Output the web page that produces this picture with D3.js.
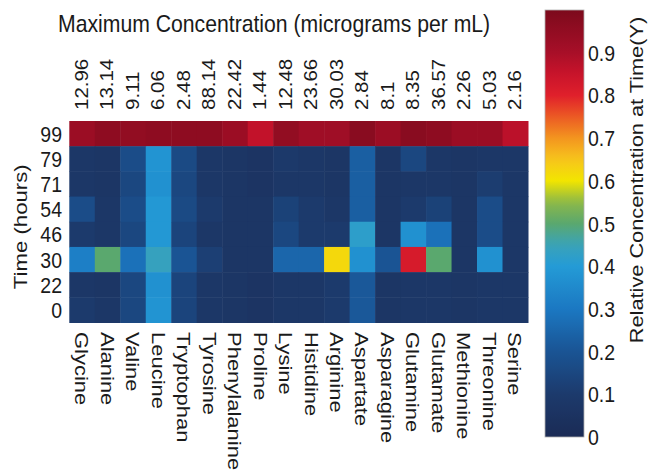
<!DOCTYPE html>
<html>
<head>
<meta charset="utf-8">
<script src="https://cdn.jsdelivr.net/npm/d3@7"></script>
<style>
  html, body { margin: 0; padding: 0; background: #fff; }
  svg { display: block; }
  text { font-family: "Liberation Sans", Arial, Helvetica, sans-serif; fill: #1a1a1a; }
</style>
</head>
<body>
<svg id="chart" width="653" height="472"></svg>
<script>
// ---- data ----
const categories = ["Glycine","Alanine","Valine","Leucine","Tryptophan","Tyrosine","Phenylalanine","Proline","Lysine","Histidine","Arginine","Aspartate","Asparagine","Glutamine","Glutamate","Methionine","Threonine","Serine"];
const maxConc = ["12.96","13.14","9.11","6.06","2.48","88.14","22.42","1.44","12.48","23.66","30.03","2.84","8.1","8.35","36.57","2.26","5.03","2.16"];
const times = ["99","79","71","54","46","30","22","0"];
const t99 = [0.93,0.96,0.95,0.96,0.96,0.96,0.93,0.86,0.95,0.92,0.92,0.97,0.93,0.97,0.96,0.93,0.93,0.87];
const t79 = [0.08,0.07,0.17,0.38,0.16,0.08,0.07,0.06,0.09,0.08,0.07,0.23,0.07,0.15,0.08,0.07,0.08,0.08];
const t71 = [0.08,0.07,0.15,0.37,0.15,0.08,0.07,0.06,0.08,0.08,0.07,0.23,0.07,0.08,0.08,0.07,0.11,0.08];
const t54 = [0.17,0.08,0.17,0.39,0.16,0.10,0.07,0.07,0.13,0.10,0.08,0.23,0.07,0.10,0.13,0.07,0.17,0.08];
const t46 = [0.10,0.08,0.15,0.39,0.14,0.08,0.07,0.07,0.15,0.10,0.10,0.42,0.07,0.37,0.28,0.07,0.17,0.08];
const t30 = [0.32,0.50,0.28,0.44,0.20,0.12,0.07,0.07,0.25,0.25,0.62,0.37,0.20,0.82,0.50,0.07,0.37,0.08];
const t22 = [0.08,0.07,0.15,0.37,0.14,0.08,0.07,0.06,0.08,0.08,0.10,0.21,0.07,0.08,0.08,0.07,0.08,0.08];
const t0  = [0.10,0.08,0.15,0.38,0.14,0.08,0.07,0.06,0.08,0.08,0.10,0.21,0.07,0.08,0.08,0.07,0.08,0.08];
const rowsData = [t99, t79, t71, t54, t46, t30, t22, t0];
const cbTicks = [0,0.1,0.2,0.3,0.4,0.5,0.6,0.7,0.8,0.9];

// printed "jet"-like colormap
const cmapStops  = [0, 0.1, 0.2, 0.3, 0.4, 0.45, 0.5, 0.55, 0.6, 0.65, 0.7, 0.75, 0.8, 0.85, 0.9, 1.0];
const cmapColors = ["#1b2b55","#1c3a6c","#1a5494","#1b78c2","#249bd6","#3aa3b8","#5aa86e","#8cb848","#f2e500","#f7c41d","#f3951f","#ec5a24","#e0202b","#c8132b","#a80f28","#7c0a1c"];

// ---- layout ----
const svg = d3.select("#chart");
const SY = 1.17; // vertical stretch of the printed figure
const hm = {left: 69.3, right: 528, top: 121, bottom: 322.5};
const color = d3.scaleLinear().domain(cmapStops).range(cmapColors).interpolate(d3.interpolateRgb).clamp(true);

const x = d3.scaleBand().domain(categories).range([hm.left, hm.right]).padding(0);
const y = d3.scaleBand().domain(times).range([hm.top, hm.bottom]).padding(0);

const cells = [];
times.forEach((t, i) => categories.forEach((c, j) => cells.push({t, c, v: rowsData[i][j]})));

svg.append("g").selectAll("rect").data(cells).join("rect")
  .attr("x", d => x(d.c)).attr("y", d => y(d.t))
  .attr("width", x.bandwidth() + 0.5).attr("height", y.bandwidth() + 0.5)
  .attr("fill", d => color(d.v));

function label(g, tx, ty, rot, txt, size, anchor, baseline) {
  g.append("text")
    .attr("transform", `translate(${tx},${ty}) scale(1,${SY}) rotate(${rot})`)
    .attr("text-anchor", anchor)
    .attr("dominant-baseline", baseline)
    .style("font-size", size + "px")
    .text(txt);
}

// title
const gt = svg.append("g");
label(gt, 58, 32, 0, "Maximum Concentration (micrograms per mL)", 21.2, "start", "auto");

// top labels (max concentration)
const gTop = svg.append("g");
categories.forEach((c, i) => {
  label(gTop, x(c) + x.bandwidth()/2, 110, -90, maxConc[i], 17.5, "start", "central");
});

// bottom labels (categories)
const gBot = svg.append("g");
categories.forEach((c) => {
  label(gBot, x(c) + x.bandwidth()/2, 332, 90, c, 18.8, "start", "central");
});

// left tick labels
const gLeft = svg.append("g");
times.forEach((t) => {
  label(gLeft, 62, y(t) + y.bandwidth()/2, 0, t, 19.5, "end", "central");
});
label(gLeft, 20, (hm.top + hm.bottom)/2 + 5, -90, "Time (hours)", 19, "middle", "central");

// colorbar
const cb = {x: 545, w: 39, top: 10, bottom: 437};
const cy = d3.scaleLinear().domain([0, 1]).range([cb.bottom, cb.top]);
const defs = svg.append("defs");
const grad = defs.append("linearGradient").attr("id", "cbgrad")
  .attr("x1", 0).attr("y1", 1).attr("x2", 0).attr("y2", 0);
d3.range(0, 1.0001, 0.02).forEach(v => {
  grad.append("stop").attr("offset", v).attr("stop-color", color(v));
});
svg.append("rect").attr("x", cb.x).attr("y", cb.top).attr("width", cb.w).attr("height", cb.bottom - cb.top)
  .attr("fill", "url(#cbgrad)").attr("stroke", "#b0b0b0").attr("stroke-width", 0.8);
const gCb = svg.append("g");
cbTicks.forEach(v => {
  label(gCb, 588, cy(v), 0, String(v), 19.5, "start", "central");
});
label(gCb, 637, 180, -90, "Relative Concentration at Time(Y)", 18.6, "middle", "central");
</script>
</body>
</html>
